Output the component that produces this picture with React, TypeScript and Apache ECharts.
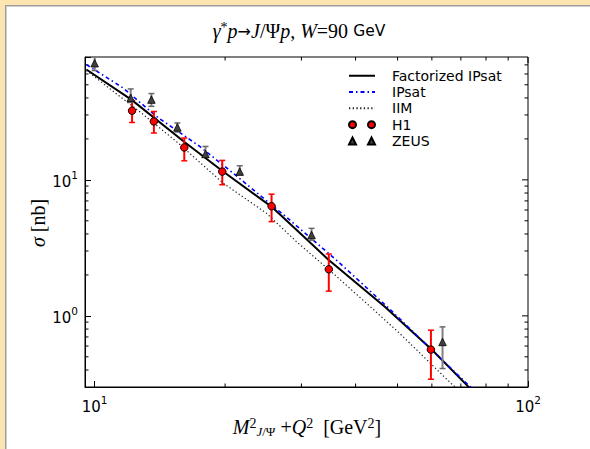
import React, { useEffect, useRef } from 'react';
import * as echarts from 'echarts';

// Axis ranges
const X_MIN = 9.5;
const X_MAX = 100;
const Y_MIN = 0.3;
const Y_MAX = 80;

// Factorized IPsat (solid black)
const FACT_X = [9.57, 12.15, 16.14, 19.79, 25.58, 28.96, 34.58, 46.73, 59.94, 73.2];
const FACT_Y = [64.7, 38.9, 18.9, 11.51, 6.36, 4.41, 2.6, 1.165, 0.566, 0.297];

// IPsat (blue dash-dot)
const IPSAT_X = [9.57, 11.63, 13.88, 17.48, 20.87, 27.72, 36.48, 48.0, 56.3, 69.7, 74.3];
const IPSAT_Y = [70.4, 47.4, 29.3, 17.6, 11.2, 5.31, 2.5, 1.12, 0.682, 0.355, 0.293];

// IIM (dotted)
const IIM_X = [9.57, 12.82, 15.57, 19.79, 24.92, 29.23, 35.84, 43.9, 50.6, 67.2, 68.2];
const IIM_Y = [63.6, 31.0, 18.7, 9.46, 5.68, 3.51, 2.0, 1.12, 0.742, 0.308, 0.298];

// H1 data
const H1_X = [12.2, 13.7, 16.1, 19.7, 25.6, 34.7, 59.7];
const H1_Y = [32.2, 26.9, 17.3, 11.5, 6.4, 2.2, 0.565];
const H1_LO = [26.4, 22.1, 13.8, 9.2, 4.93, 1.52, 0.342];
const H1_HI = [38.2, 31.8, 20.3, 13.9, 7.85, 2.85, 0.785];

// ZEUS data
const ZEUS_X = [10.0, 12.11, 13.52, 15.52, 18.02, 21.62, 31.66, 63.5];
const ZEUS_Y = [72, 40, 38.9, 24.3, 15.5, 11.5, 3.93, 0.643];
const ZEUS_LO = [63.6, 37.1, 34.7, 22.5, 14.7, 10.9, 3.6, 0.41];
const ZEUS_HI = [85, 46.6, 43.1, 26.2, 17.6, 12.7, 4.4, 0.83];

// Tick values
const X_MAJOR = [10, 100];
const X_MINOR = [20, 30, 40, 50, 60, 70, 80, 90];
const Y_MAJOR = [1, 10];
const Y_MINOR = [0.4, 0.5, 0.6, 0.7, 0.8, 0.9, 2, 3, 4, 5, 6, 7, 8, 9, 20, 30, 40, 50, 60, 70];

const SERIF = 'Liberation Serif';
const SANS = 'DejaVu Sans';

const isPow10 = (v: number) => Math.abs(Math.log10(v) - Math.round(Math.log10(v))) < 1e-6;
const tickLabel = (v: number) => (isPow10(v) ? `{b|10}{s|${Math.round(Math.log10(v))}}` : '');
const tickRich = {
  b: { fontSize: 15, fontFamily: SANS, color: '#000', lineHeight: 20, verticalAlign: 'bottom' },
  s: { fontSize: 10.5, fontFamily: SANS, color: '#000', lineHeight: 11, verticalAlign: 'top' },
};

const mathRich = {
  i: { fontFamily: SERIF, fontStyle: 'italic', fontSize: 20, lineHeight: 22, color: '#000' },
  r: { fontFamily: SERIF, fontSize: 20, lineHeight: 22, color: '#000' },
  ar: { fontFamily: SANS, fontSize: 16, lineHeight: 22, color: '#000' },
  sup: { fontFamily: SERIF, fontSize: 14, lineHeight: 11, verticalAlign: 'top', color: '#000' },
  subi: { fontFamily: SERIF, fontStyle: 'italic', fontSize: 13, lineHeight: 13, verticalAlign: 'bottom', color: '#000' },
  sub: { fontFamily: SERIF, fontSize: 13, lineHeight: 13, verticalAlign: 'bottom', color: '#000' },
  s: { fontFamily: SANS, fontSize: 15.5, lineHeight: 22, color: '#000' },
};

function errorBarSeries(name: string, xs: number[], lo: number[], hi: number[], color: string, capColor: string) {
  return {
    type: 'custom',
    name,
    clip: true,
    z: 4,
    encode: { x: 0, y: [1, 2] },
    data: xs.map((x, i) => [x, lo[i], hi[i]]),
    renderItem: (_params: any, api: any) => {
      const x = api.value(0);
      const pLo = api.coord([x, api.value(1)]);
      const pHi = api.coord([x, api.value(2)]);
      const w = 3;
      return {
        type: 'group',
        children: [
          { type: 'line', shape: { x1: pLo[0], y1: pLo[1], x2: pHi[0], y2: pHi[1] }, style: { stroke: color, lineWidth: 2 } },
          { type: 'line', shape: { x1: pLo[0] - w, y1: pLo[1], x2: pLo[0] + w, y2: pLo[1] }, style: { stroke: capColor, lineWidth: 1.5 } },
          { type: 'line', shape: { x1: pHi[0] - w, y1: pHi[1], x2: pHi[0] + w, y2: pHi[1] }, style: { stroke: capColor, lineWidth: 1.5 } },
        ],
      };
    },
  };
}

const noSymbol = { color: 'rgba(0,0,0,0)', borderWidth: 0, borderColor: 'rgba(0,0,0,0)' };

export default function App() {
  const ref = useRef<HTMLDivElement>(null);

  useEffect(() => {
    document.body.style.margin = '0';
    const chart = echarts.init(ref.current!, null, { renderer: 'svg' });

    const option: any = {
      animation: false,
      grid: { left: 85, top: 57, right: 62, bottom: 62, show: true, borderColor: '#000', borderWidth: 1, backgroundColor: 'transparent' },
      xAxis: {
        type: 'log',
        min: X_MIN,
        max: X_MAX,
        axisLine: { show: true, lineStyle: { color: '#000', width: 1 } },
        axisTick: { show: true, inside: true, length: 6, lineStyle: { color: '#000' } },
        axisLabel: { formatter: tickLabel, rich: tickRich, margin: 7 },
        splitLine: { show: false },
      },
      yAxis: {
        type: 'log',
        min: Y_MIN,
        max: Y_MAX,
        axisLine: { show: true, lineStyle: { color: '#000', width: 1 } },
        axisTick: { show: true, inside: true, length: 6, lineStyle: { color: '#000' } },
        axisLabel: { formatter: tickLabel, rich: tickRich, margin: 7 },
        splitLine: { show: false },
      },
      legend: {
        orient: 'vertical',
        left: 348,
        top: 67.6,
        padding: 0,
        itemGap: 0,
        itemWidth: 26,
        itemHeight: 7,
        selectedMode: false,
        textStyle: { fontFamily: SANS, fontSize: 14, lineHeight: 16.3, color: '#000', padding: [0, 0, 0, 12] },
        data: [
          { name: 'Factorized IPsat', itemStyle: noSymbol },
          { name: 'IPsat', itemStyle: noSymbol },
          { name: 'IIM', itemStyle: noSymbol },
          { name: 'H1', icon: 'path://M0,3.5A3.5,3.5,0,1,1,7,3.5A3.5,3.5,0,1,1,0,3.5ZM19,3.5A3.5,3.5,0,1,1,26,3.5A3.5,3.5,0,1,1,19,3.5Z' },
          { name: 'ZEUS', icon: 'path://M3.5,0L7,7L0,7ZM22.5,0L26,7L19,7Z' },
        ],
      },
      series: [
        {
          type: 'line', name: 'Factorized IPsat', symbol: 'none', z: 3,
          data: FACT_X.map((x, i) => [x, FACT_Y[i]]),
          lineStyle: { color: '#000', width: 2 },
          itemStyle: { color: '#000' },
        },
        {
          type: 'line', name: 'IPsat', symbol: 'none', z: 3,
          data: IPSAT_X.map((x, i) => [x, IPSAT_Y[i]]),
          lineStyle: { color: '#0000ff', width: 1.6, type: [4, 3, 1.5, 3] },
          itemStyle: { color: '#0000ff' },
        },
        {
          type: 'line', name: 'IIM', symbol: 'none', z: 3,
          data: IIM_X.map((x, i) => [x, IIM_Y[i]]),
          lineStyle: { color: '#222', width: 1.2, type: [1.3, 2.4] },
          itemStyle: { color: '#222' },
        },
        errorBarSeries('H1 err', H1_X, H1_LO, H1_HI, '#ff0000', '#ff0000'),
        errorBarSeries('ZEUS err', ZEUS_X, ZEUS_LO, ZEUS_HI, '#808080', '#6a6a6a'),
        {
          type: 'scatter', name: 'H1', symbol: 'circle', symbolSize: 7.5, z: 6,
          data: H1_X.map((x, i) => [x, H1_Y[i]]),
          itemStyle: { color: '#ff0000', borderColor: '#000', borderWidth: 1, opacity: 1 },
        },
        {
          type: 'scatter', name: 'ZEUS', symbol: 'triangle', symbolSize: 7.5, z: 6,
          data: ZEUS_X.map((x, i) => [x, ZEUS_Y[i]]),
          itemStyle: { color: '#404040', borderColor: '#000', borderWidth: 0.8, opacity: 1 },
        },
      ],
    };
    chart.setOption(option);

    // Ticks on all four sides (matplotlib-style inside ticks) + texts
    const top = 57, bottom = 387, left = 85, right = 528;
    const els: any[] = [];
    const tick = (x1: number, y1: number, x2: number, y2: number) =>
      els.push({ type: 'line', silent: true, shape: { x1, y1, x2, y2 }, style: { stroke: '#000', lineWidth: 1 } });
    X_MINOR.forEach((v) => {
      const px = chart.convertToPixel({ xAxisIndex: 0 }, v) as number;
      tick(px, bottom, px, bottom - 3.5);
      tick(px, top, px, top + 3.5);
    });
    X_MAJOR.forEach((v) => {
      const px = chart.convertToPixel({ xAxisIndex: 0 }, v) as number;
      tick(px, top, px, top + 6);
    });
    Y_MINOR.forEach((v) => {
      const py = chart.convertToPixel({ yAxisIndex: 0 }, v) as number;
      tick(left, py, left + 3.5, py);
      tick(right, py, right - 3.5, py);
    });
    Y_MAJOR.forEach((v) => {
      const py = chart.convertToPixel({ yAxisIndex: 0 }, v) as number;
      tick(right, py, right - 6, py);
    });

    els.push({
      type: 'text', x: 299, y: 31, silent: true,
      style: {
        text: '{i|γ}{sup|*}{i|p}{ar|→}{i|J}{r|/Ψ}{i|p}{r|, }{i|W}{r|=90 }{s|GeV}',
        rich: mathRich, align: 'center', verticalAlign: 'middle', fill: '#000',
      },
    });
    els.push({
      type: 'text', x: 307, y: 427, silent: true,
      style: {
        text: '{i|M}{sup|2}{subi|J}{sub|/Ψ}{r| +}{i|Q}{sup|2}{r|  [GeV}{sup|2}{r|]}',
        rich: mathRich, align: 'center', verticalAlign: 'middle', fill: '#000',
      },
    });
    els.push({
      type: 'text', x: 38, y: 223, rotation: Math.PI / 2, silent: true,
      style: {
        text: '{i|σ}{r| [nb]}',
        rich: mathRich, align: 'center', verticalAlign: 'middle', fill: '#000',
      },
    });
    chart.setOption({ graphic: { elements: els } });

    return () => chart.dispose();
  }, []);

  return (
    <div style={{ position: 'fixed', left: 0, top: 0, width: 590, height: 449, background: '#FDE5B1', overflow: 'hidden' }}>
      <div
        style={{
          position: 'absolute', left: 5, top: 5, width: 620, height: 480, background: '#fff',
          borderLeft: '1px solid #9c9c9c', borderTop: '1px solid #9c9c9c', boxShadow: 'inset 1px 1px 0 #cfcfcf',
        }}
      />
      <div ref={ref} style={{ position: 'absolute', left: 0, top: 0, width: 590, height: 449 }} />
    </div>
  );
}
